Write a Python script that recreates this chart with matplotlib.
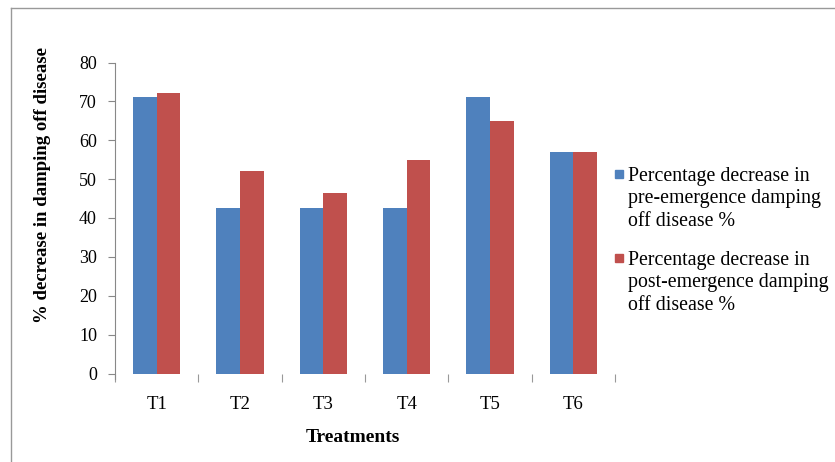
import numpy as np
import matplotlib.pyplot as plt
from matplotlib.lines import Line2D
from matplotlib.patches import Rectangle

treatments = ["T1", "T2", "T3", "T4", "T5", "T6"]
pre_emergence = [71.2, 42.5, 42.5, 42.5, 71.2, 57.0]
post_emergence = [72.2, 52.1, 46.5, 55.0, 65.0, 57.0]
series_labels = [
    "Percentage decrease in\npre-emergence damping\noff disease %",
    "Percentage decrease in\npost-emergence damping\noff disease %",
]
colors = ["#4F81BD", "#C0504D"]

plt.rcParams["font.family"] = ["Liberation Serif", "DejaVu Serif"]

W, H = 835, 462
fig = plt.figure(figsize=(W / 100, H / 100), dpi=100)
ax = fig.add_axes([115 / W, 1 - 373.5 / H, 500 / W, 311 / H])

x = np.arange(len(treatments))
bw = 1 / 3.5
ax.bar(x - bw / 2, pre_emergence, bw, color=colors[0])
ax.bar(x + bw / 2, post_emergence, bw, color=colors[1])

ax.set_xlim(-0.5, len(treatments) - 0.5)
ax.set_ylim(0, 80)
ax.set_yticks(range(0, 81, 10))
ax.tick_params(axis="y", labelsize=13, length=5, color="#888888", pad=8)

# category ticks sit between the groups, labels in the middle
ax.set_xticks(np.arange(-0.5, len(treatments)), minor=False)
ax.set_xticklabels([])
ax.set_xticks(x, minor=True)
ax.set_xticklabels(treatments, minor=True, fontsize=13.5)
ax.tick_params(axis="x", which="major", length=6, color="#999999")
ax.tick_params(axis="x", which="minor", length=0, pad=16)

for s in ["top", "right", "bottom"]:
    ax.spines[s].set_visible(False)
ax.spines["left"].set_color("#888888")
ax.spines["left"].set_bounds(-1.5, 80)

ax.set_xlabel("Treatments", fontsize=14, fontweight="bold")
ax.xaxis.set_label_coords(0.476, -0.18)
ax.set_ylabel("% decrease in damping off disease", fontsize=13.5,
              fontweight="bold")
ax.yaxis.set_label_coords(-0.128, 0.606)

# legend: small square beside the first line of each entry
for i, (lab, c) in enumerate(zip(series_labels, colors)):
    yc = [174, 258][i]
    fig.add_artist(Rectangle((614.5 / W, 1 - (yc + 4) / H), 8 / W, 8 / H,
                             color=c, transform=fig.transFigure))
    fig.text(628 / W, 1 - (yc - 7) / H, lab, fontsize=14.3, va="top",
             ha="left", linespacing=1.25)

# outer chart frame
fig.add_artist(Line2D([10.5 / W, 10.5 / W], [0, 1 - 8 / H], color="#999999", lw=1))
fig.add_artist(Line2D([10.5 / W, 1], [1 - 8 / H, 1 - 8 / H], color="#999999", lw=1))

fig.savefig("out.png", dpi=100)
